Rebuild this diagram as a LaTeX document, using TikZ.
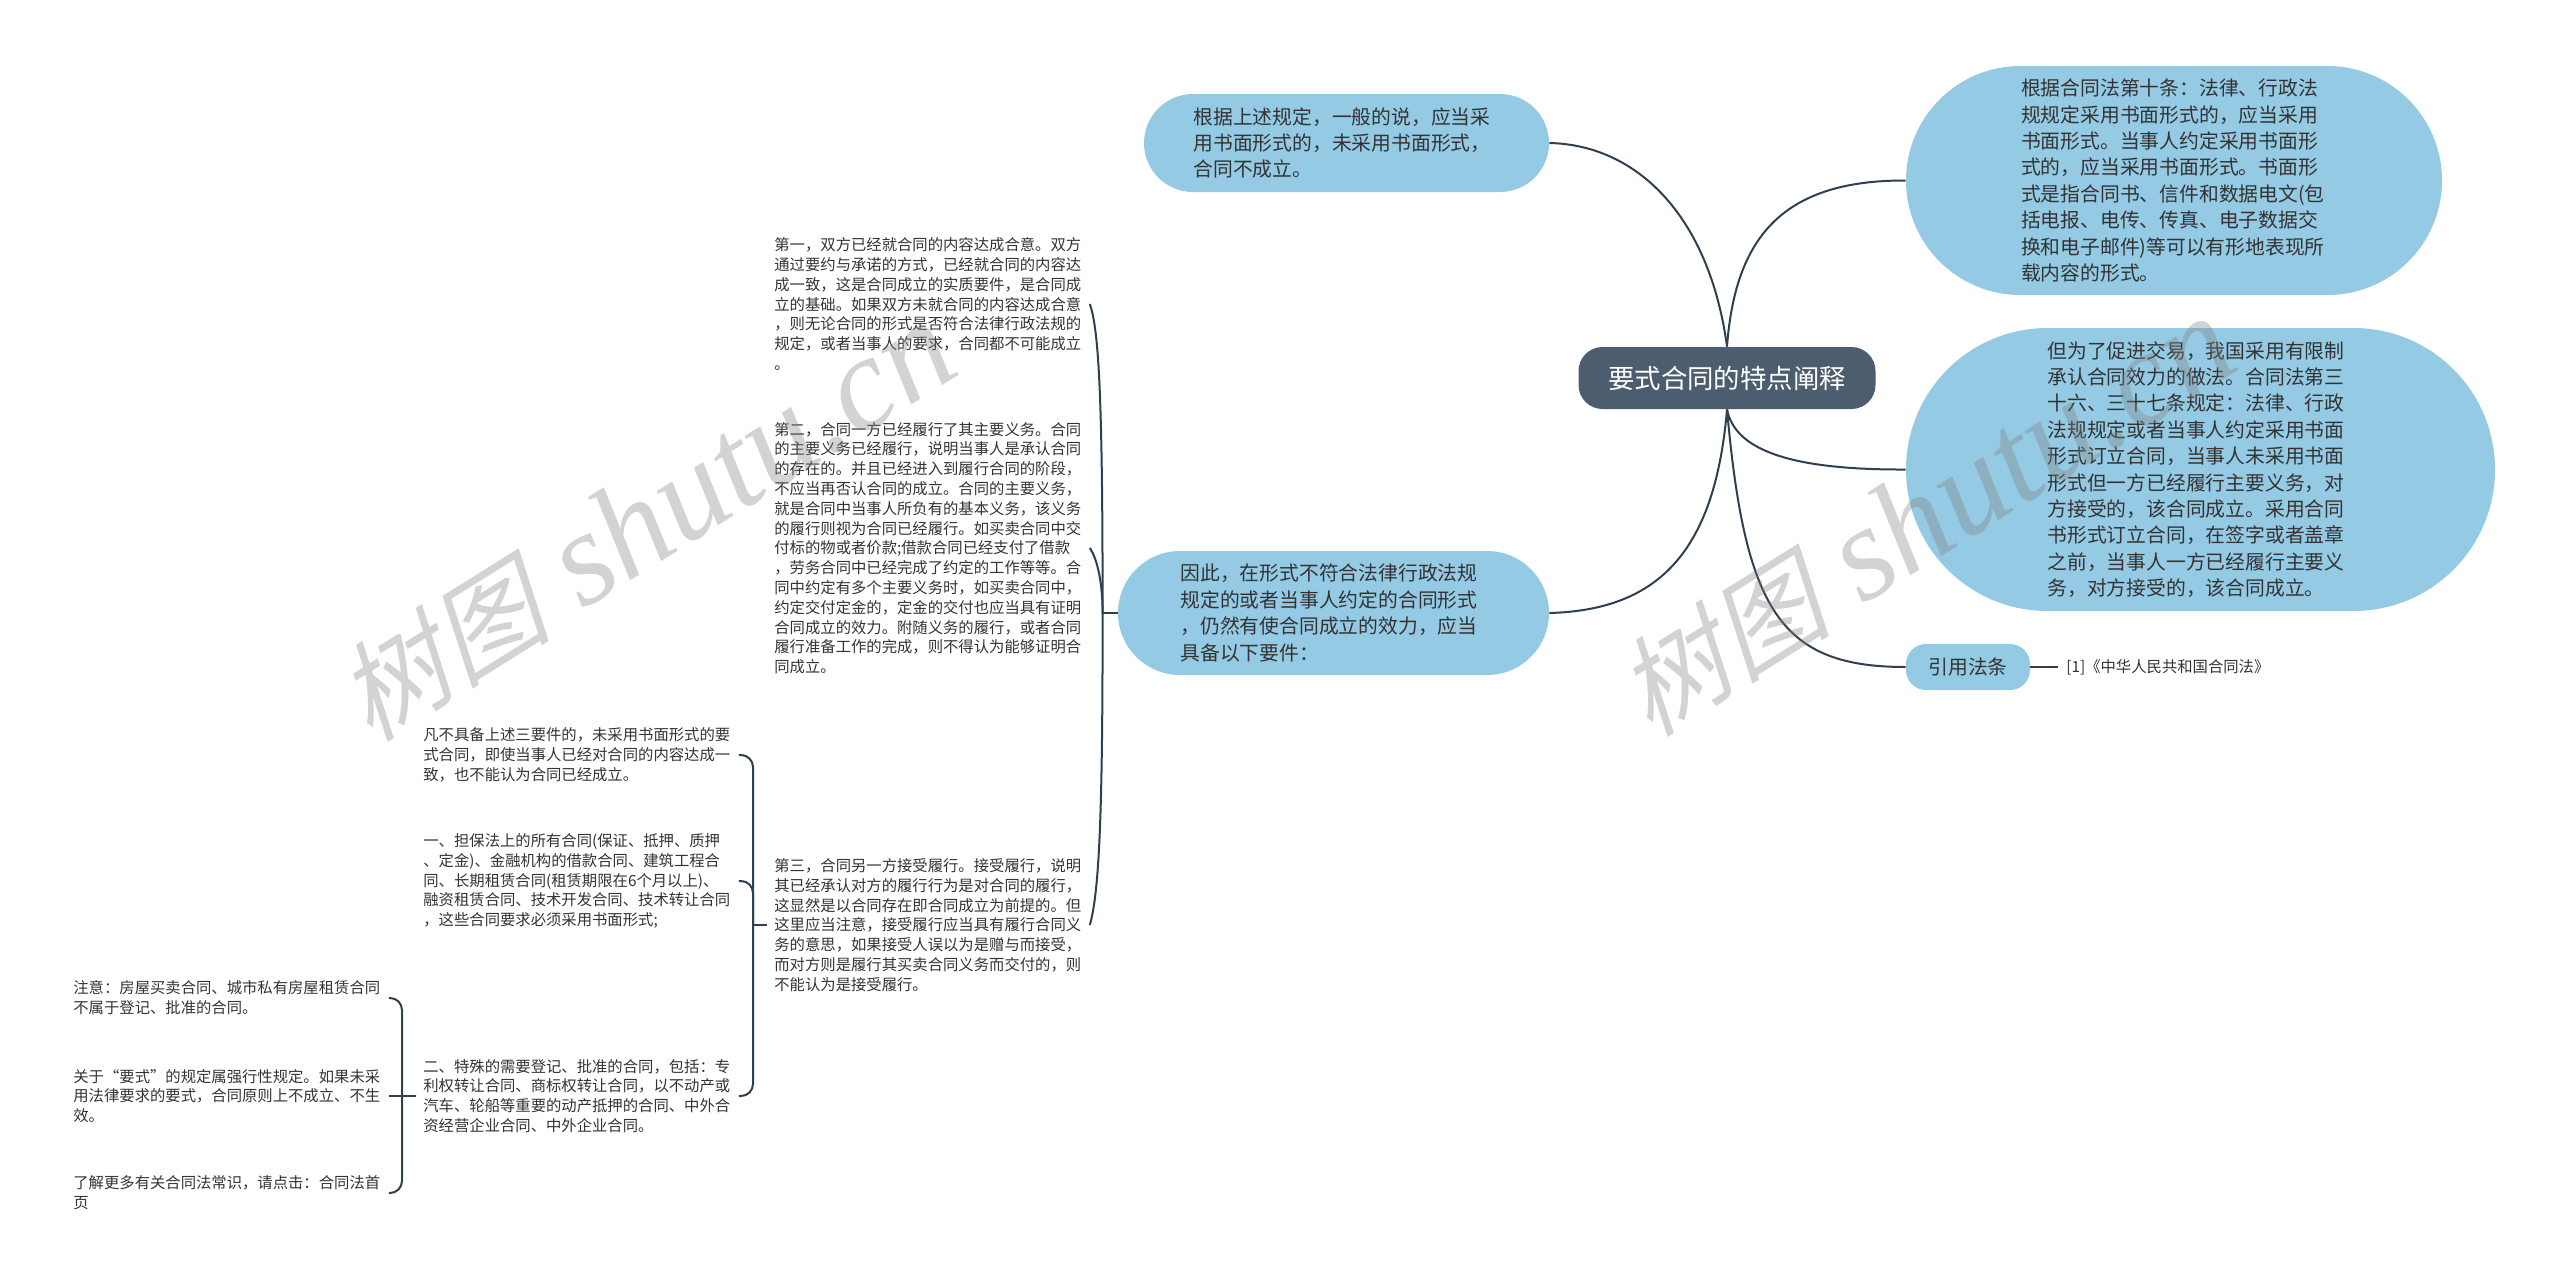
\documentclass[tikz,border=0pt]{standalone}
\usepackage{fontspec}
\setmainfont{Noto Sans CJK SC}
\newfontfamily\markcjk[FakeSlant=0.25]{Noto Sans CJK SC}
\newfontfamily\marklatin{Liberation Serif}
\usetikzlibrary{shapes.misc}
\definecolor{TopicFill}{HTML}{4B5D6E}
\definecolor{PillFill}{HTML}{94CAE3}
\definecolor{LinkLine}{HTML}{2F3F4F}
\definecolor{BodyText}{HTML}{333333}

\begin{document}
\begin{tikzpicture}[
        x=0.5pt,y=-0.5pt,
        TopicCfg/.style={
            rectangle,
            rounded corners=12pt,
            fill=TopicFill,
            text=white,
            inner sep=0pt,
            minimum width=148.5pt,
            minimum height=31pt,
            font=\fontsize{13.2}{16}\selectfont
        },
        PillCfg/.style={
            rounded rectangle,
            fill=PillFill,
            text=BodyText,
            inner sep=0pt,
            text width=153pt,
            align=left,
            font=\fontsize{9.9}{13.2}\selectfont
        },
        TagCfg/.style={
            rectangle,
            rounded corners=10pt,
            fill=PillFill,
            text=BodyText,
            inner sep=0pt,
            minimum width=62pt,
            minimum height=23pt,
            font=\fontsize{9.9}{13.2}\selectfont
        },
        LeafCfg/.style={
            anchor=west,
            text=BodyText,
            inner xsep=3.5pt,
            inner ysep=1pt,
            text width=154pt,
            align=left,
            font=\fontsize{7.67}{9.9}\selectfont
        },
        LinkCfg/.style={
            draw=LinkLine,
            line width=1pt
        },
        MarkCfg/.style={
            rotate=32,
            text=gray,
            opacity=0.35
        }
    ]
    \useasboundingbox (0,0) rectangle (2560,1286);
    
    % main topic
    \node[TopicCfg] (Topic) at (1727,378) {要式合同的特点阐释};
    
    % right side
    \node[PillCfg,minimum width=268pt,minimum height=114.5pt] (Tenth) at (2174,180.5) {根据合同法第十条：法律、行政法\\规规定采用书面形式的，应当采用\\书面形式。当事人约定采用书面形\\式的，应当采用书面形式。书面形\\式是指合同书、信件和数据电文(包\\括电报、电传、传真、电子数据交\\换和电子邮件)等可以有形地表现所\\载内容的形式。};
    \node[PillCfg,minimum width=294.5pt,minimum height=141.5pt] (Limit) at (2200.5,469.5) {但为了促进交易，我国采用有限制\\承认合同效力的做法。合同法第三\\十六、三十七条规定：法律、行政\\法规规定或者当事人约定采用书面\\形式订立合同，当事人未采用书面\\形式但一方已经履行主要义务，对\\方接受的，该合同成立。采用合同\\书形式订立合同，在签字或者盖章\\之前，当事人一方已经履行主要义\\务，对方接受的，该合同成立。};
    \node[TagCfg] (Cite) at (1968,667) {引用法条};
    \node[anchor=west,text=BodyText,inner xsep=4pt,inner ysep=1pt,font=\fontsize{7.67}{9.9}\selectfont] (Law) at (2058,667) {[1]《中华人民共和国合同法》};
    
    % left side
    \node[PillCfg,minimum width=202.5pt,minimum height=49pt] (Rule) at (1346.5,143) {根据上述规定，一般的说，应当采\\用书面形式的，未采用书面形式，\\合同不成立。};
    \node[PillCfg,minimum width=215.5pt,minimum height=62pt] (Form) at (1333.5,613) {因此，在形式不符合法律行政法规\\规定的或者当事人约定的合同形式\\，仍然有使合同成立的效力，应当\\具备以下要件：};
    
    % three conditions
    \node[LeafCfg] (First) at (767,304) {第一，双方已经就合同的内容达成合意。双方\\通过要约与承诺的方式，已经就合同的内容达\\成一致，这是合同成立的实质要件，是合同成\\立的基础。如果双方未就合同的内容达成合意\\，则无论合同的形式是否符合法律行政法规的\\规定，或者当事人的要求，合同都不可能成立\\。};
    \node[LeafCfg] (Second) at (767,548) {第二，合同一方已经履行了其主要义务。合同\\的主要义务已经履行，说明当事人是承认合同\\的存在的。并且已经进入到履行合同的阶段，\\不应当再否认合同的成立。合同的主要义务，\\就是合同中当事人所负有的基本义务，该义务\\的履行则视为合同已经履行。如买卖合同中交\\付标的物或者价款;借款合同已经支付了借款\\，劳务合同中已经完成了约定的工作等等。合\\同中约定有多个主要义务时，如买卖合同中，\\约定交付定金的，定金的交付也应当具有证明\\合同成立的效力。附随义务的履行，或者合同\\履行准备工作的完成，则不得认为能够证明合\\同成立。};
    \node[LeafCfg] (Third) at (767,925) {第三，合同另一方接受履行。接受履行，说明\\其已经承认对方的履行行为是对合同的履行，\\这显然是以合同存在即合同成立为前提的。但\\这里应当注意，接受履行应当具有履行合同义\\务的意思，如果接受人误以为是赠与而接受，\\而对方则是履行其买卖合同义务而交付的，则\\不能认为是接受履行。};
    
    % second level
    \node[LeafCfg] (Lack) at (416,755) {凡不具备上述三要件的，未采用书面形式的要\\式合同，即使当事人已经对合同的内容达成一\\致，也不能认为合同已经成立。};
    \node[LeafCfg] (Must) at (416,881) {一、担保法上的所有合同(保证、抵押、质押\\、定金)、金融机构的借款合同、建筑工程合\\同、长期租赁合同(租赁期限在6个月以上)、\\融资租赁合同、技术开发合同、技术转让合同\\，这些合同要求必须采用书面形式;};
    \node[LeafCfg] (Special) at (416,1096) {二、特殊的需要登记、批准的合同，包括：专\\利权转让合同、商标权转让合同，以不动产或\\汽车、轮船等重要的动产抵押的合同、中外合\\资经营企业合同、中外企业合同。};
    
    % third level
    \node[LeafCfg] (Note) at (66,998) {注意：房屋买卖合同、城市私有房屋租赁合同\\不属于登记、批准的合同。};
    \node[LeafCfg] (Force) at (66,1096) {关于“要式”的规定属强行性规定。如果未采\\用法律要求的要式，合同原则上不成立、不生\\效。};
    \node[LeafCfg] (More) at (66,1193) {了解更多有关合同法常识，请点击：合同法首\\页};
    
    % links from main topic
    \draw[LinkCfg] (Rule.east) .. controls (1640,145) and (1710,220) .. (Topic.north);
    \draw[LinkCfg] (Tenth.west) .. controls (1780,180) and (1735,240) .. (Topic.north);
    \draw[LinkCfg] (Limit.west) .. controls (1790,470) and (1735,450) .. (Topic.south);
    \draw[LinkCfg] (Cite.west) .. controls (1780,667) and (1745,610) .. (Topic.south);
    \draw[LinkCfg] (Form.east) .. controls (1660,610) and (1715,550) .. (Topic.south);
    \draw[LinkCfg] (Cite.east) -- (Law.west);
    
    % bracket of Form
    \draw[LinkCfg] (Form.west) -- ++(-15,0) coordinate (FormJoin);
    \draw[LinkCfg] (FormJoin) .. controls +(0,-213) and (1099,330) .. (First.east);
    \draw[LinkCfg] (FormJoin) .. controls +(0,-28) and (1098,560) .. (Second.east);
    \draw[LinkCfg] (FormJoin) .. controls +(0,187) and (1100,890) .. (Third.east);
    
    % bracket of Third
    \draw[LinkCfg] (Third.west) -- ++(-14,0) coordinate (ThirdJoin);
    \draw[LinkCfg,rounded corners=6pt] (ThirdJoin) |- (Lack.east);
    \draw[LinkCfg,rounded corners=6pt] (ThirdJoin) |- (Must.east);
    \draw[LinkCfg,rounded corners=6pt] (ThirdJoin) |- (Special.east);
    
    % bracket of Special
    \draw[LinkCfg] (Special.west) -- (Force.east);
    \coordinate (SpecialJoin) at (402,1096);
    \draw[LinkCfg,rounded corners=6pt] (SpecialJoin) |- (Note.east);
    \draw[LinkCfg,rounded corners=6pt] (SpecialJoin) |- (More.east);
    
    % watermarks
    \node[MarkCfg] (MarkLeft) at (645,522) {\fontsize{54}{54}\selectfont\markcjk 树图\marklatin\fontsize{67}{67}\selectfont\itshape{} shutu.cn};
    \node[MarkCfg] (MarkRight) at (1925,517) {\fontsize{54}{54}\selectfont\markcjk 树图\marklatin\fontsize{67}{67}\selectfont\itshape{} shutu.cn};
    
\end{tikzpicture}
\end{document}
